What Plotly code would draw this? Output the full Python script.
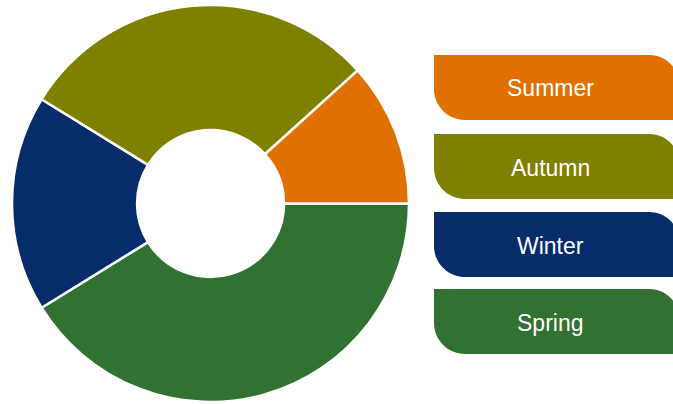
import plotly.graph_objects as go

W, H = 673, 404

seasons = ["Summer", "Autumn", "Winter", "Spring"]
shares = [11.7, 29.5, 17.6, 41.2]
colors = ["#E07000", "#808000", "#072C6A", "#317131"]

fig = go.Figure()
# drawn clockwise from 3 o'clock in reverse order, so that the seasons
# run counterclockwise starting at 3 o'clock
fig.add_trace(go.Pie(
    labels=seasons[::-1],
    values=shares[::-1],
    marker=dict(colors=colors[::-1], line=dict(color="white", width=2.5)),
    hole=0.37,
    sort=False,
    direction="clockwise",
    rotation=90,
    textinfo="none",
    hoverinfo="label+percent",
    showlegend=False,
    domain=dict(x=[12 / W, 409 / W], y=[1 - 402 / H, 1 - 5 / H]),
))


def px(x):
    return x / W


def py(y):
    return 1 - y / H


def box_path(x0, y0, x1, y1, r):
    k = 0.5523 * r
    pts = [
        ("M", [(x0, y0)]),
        ("L", [(x1 - r, y0)]),
        ("C", [(x1 - r + k, y0), (x1, y0 + r - k), (x1, y0 + r)]),
        ("L", [(x1, y1)]),
        ("L", [(x0 + r, y1)]),
        ("C", [(x0 + r - k, y1), (x0, y1 - r + k), (x0, y1 - r)]),
    ]
    s = ""
    for cmd, ps in pts:
        s += cmd + " " + " ".join(f"{px(a):.5f},{py(b):.5f}" for a, b in ps) + " "
    return s + "Z"


box_left, box_right, box_h, radius = 434, 680, 65, 31
box_tops = [55, 134, 212, 289]

shapes = []
annotations = []
for name, col, top in zip(seasons, colors, box_tops):
    shapes.append(dict(
        type="path", xref="paper", yref="paper",
        path=box_path(box_left, top, box_right, top + box_h, radius),
        fillcolor=col, line=dict(width=0), layer="below",
    ))
    annotations.append(dict(
        x=px(550), y=py(top + box_h / 2 + 1), xref="paper", yref="paper",
        text=name, showarrow=False, xanchor="center", yanchor="middle",
        font=dict(family="Liberation Sans, Arial, sans-serif", size=23, color="white"),
    ))

fig.update_layout(
    width=W, height=H,
    margin=dict(l=0, r=0, t=0, b=0),
    paper_bgcolor="white",
    plot_bgcolor="white",
    shapes=shapes,
    annotations=annotations,
    showlegend=False,
)

fig.write_html("out.html")
